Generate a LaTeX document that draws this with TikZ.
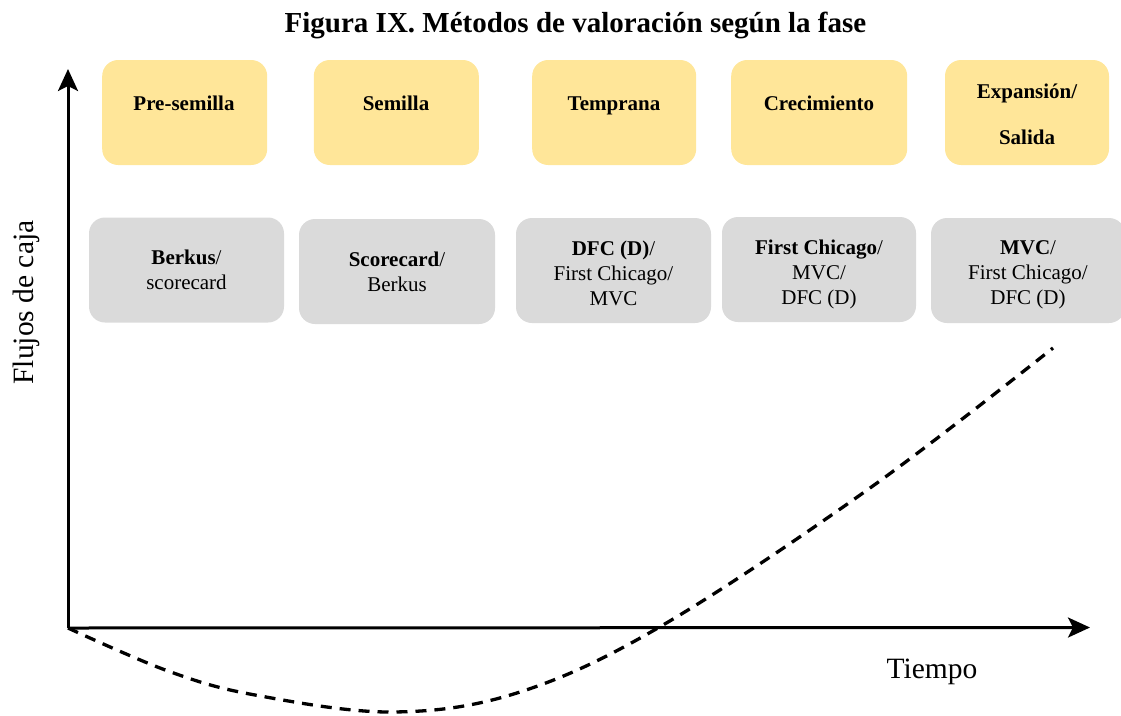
\documentclass[tikz,border=0pt]{standalone}
\usepackage{fontspec}
\setmainfont{Liberation Serif}
\newfontfamily\tnr{Liberation Serif}
\usetikzlibrary{arrows.meta}
\definecolor{phasecol}{HTML}{FFE699}
\definecolor{methcol}{HTML}{DADADA}
\begin{document}
\begin{tikzpicture}[x=1pt,y=-1pt,
  phasebox/.style={fill=phasecol, rounded corners=16pt, minimum height=105pt, inner sep=0pt},
  methbox/.style={fill=methcol, rounded corners=16pt, minimum height=105pt, inner sep=0pt, align=center, font=\tnr\fontsize{21}{25}\selectfont},
  phasetxt/.style={font=\tnr\bfseries\fontsize{21}{25}\selectfont, anchor=base, inner sep=0pt},
  axislbl/.style={font=\tnr\fontsize{29.5}{34}\selectfont, anchor=base, inner sep=0pt},
  axisline/.style={line width=3pt, -{Stealth[length=22pt,width=20pt,inset=5pt]}},
  cfcurve/.style={line width=3.3pt, dash pattern=on 11pt off 8pt}]
\useasboundingbox (0,0) rectangle (1121,715);

% title
\node[anchor=base, inner sep=0pt, font=\tnr\bfseries\fontsize{29}{34}\selectfont] (title) at (575.5,32) {Figura IX. Métodos de valoración según la fase};

% phase boxes
\node[phasebox, minimum width=165pt] (p1) at (184.7,112.5) {};
\node[phasebox, minimum width=165pt] (p2) at (396.3,112.5) {};
\node[phasebox, minimum width=164pt] (p3) at (614.2,112.5) {};
\node[phasebox, minimum width=176pt] (p4) at (819.2,112.5) {};
\node[phasebox, minimum width=164pt] (p5) at (1027,112.5) {};
\node[phasetxt] (t1) at (184,110) {Pre-semilla};
\node[phasetxt] (t2) at (396,110) {Semilla};
\node[phasetxt] (t3) at (614,110) {Temprana};
\node[phasetxt] (t4) at (819,110) {Crecimiento};
\node[phasetxt] (t5a) at (1027,98) {Expansión/};
\node[phasetxt] (t5b) at (1027,144) {Salida};

% method boxes
\node[methbox, minimum width=195pt] (m1) at (186.5,270) {{\bfseries Berkus}/\\scorecard};
\node[methbox, minimum width=196pt] (m2) at (397,271.5) {{\bfseries Scorecard}/\\Berkus};
\node[methbox, minimum width=195pt] (m3) at (613.5,270.5) {};
\node[methbox, minimum width=194pt] (m4) at (819,269.5) {};
\node[methbox, minimum width=194pt] (m5) at (1028,270.5) {};
\node[methbox, fill=none, yshift=-3pt] (m3t) at (m3.center) {{\bfseries DFC (D)}/\\First Chicago/\\MVC};
\node[methbox, fill=none, yshift=-5pt] (m4t) at (m4.center) {{\bfseries First Chicago}/\\MVC/\\DFC (D)};
\node[methbox, fill=none, yshift=-4.5pt] (m5t) at (m5.center) {{\bfseries MVC}/\\First Chicago/\\DFC (D)};

% axes
\coordinate (O) at (68,628);
\coordinate (ytip) at (68,69);
\coordinate (xtip) at (1090,627.5);
\draw[axisline] (O) -- (ytip);
\draw[axisline] (O) -- (xtip);
\node[axislbl, rotate=90] (ylbl) at (33,302.5) {Flujos de caja};
\node[axislbl] (xlbl) at (932,678) {Tiempo};

% cash flow curve
\draw[cfcurve] plot[smooth, tension=0.6] coordinates {(68,628) (168,671) (255,695) (393,712) (520,692) (663,625) (870,488) (1053,348)};
\end{tikzpicture}
\end{document}
